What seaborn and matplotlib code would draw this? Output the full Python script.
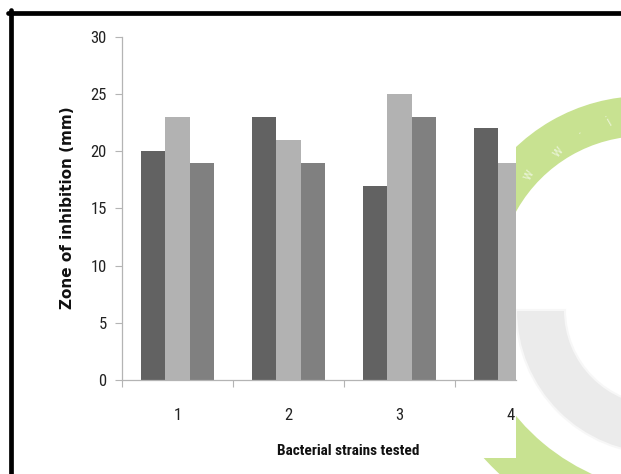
import matplotlib
matplotlib.use("Agg")
import matplotlib.pyplot as plt
from matplotlib import font_manager
from matplotlib.patches import Wedge, Rectangle
from matplotlib.lines import Line2D
import numpy as np
import pandas as pd
import seaborn as sns

# Zone of inhibition per bacterial strain, three treatments each
strains = ["1", "2", "3", "4"]
treatments = ["A", "B", "C"]
zone_a = [20, 23, 17, 22]
zone_b = [23, 21, 25, 19]
zone_c = [19, 19, 23, np.nan]
bar_colors = ["#626262", "#b2b2b2", "#808080"]
y_ticks = [0, 5, 10, 15, 20, 25, 30]

df = pd.DataFrame({
    "strain": np.repeat(strains, len(treatments)),
    "treatment": treatments * len(strains),
    "zone": [v for trio in zip(zone_a, zone_b, zone_c) for v in trio],
})

sns.set_theme(style="white")

available = {f.name for f in font_manager.fontManager.ttflist}
narrow = next((f for f in ["Liberation Sans Narrow", "DejaVu Sans Condensed",
                           "Roboto Condensed", "Open Sans Condensed", "Noto Sans"]
               if f in available), "DejaVu Sans")
plt.rcParams["font.family"] = [narrow, "DejaVu Sans"]

W, H = 621, 474
fig = plt.figure(figsize=(W / 100, H / 100), dpi=100)

# Background layer in pixel coordinates for the logo arcs and frame
bg = fig.add_axes([0, 0, 1, 1], zorder=0)
bg.set_xlim(0, W)
bg.set_ylim(H, 0)
bg.axis("off")
green = "#c8e291"
bg.add_patch(Wedge((644, 282), 186, 180, 300, width=40, facecolor=green,
                   edgecolor="none", zorder=1))
bg.add_patch(Wedge((680, 280), 265, 95, 165, width=52, facecolor=green,
                   edgecolor="none", zorder=1))
bg.add_patch(Wedge((660, 310), 144, 90, 180, width=49, facecolor="#ebebeb",
                   edgecolor="#f7f7f7", linewidth=1.5, zorder=2))
for (tx, ty, s, rot) in [(528, 175, "w", 62), (558, 152, "w", 50),
                         (578, 130, ".", 40), (610, 122, "i", 30)]:
    bg.text(tx, ty, s, color="#e6f2cf", fontsize=11, rotation=rot,
            ha="center", va="center", zorder=3)
bg.add_patch(Rectangle((0, 0), 516, 458, facecolor="white", edgecolor="none",
                       zorder=4))

# Main bar chart
ax = fig.add_axes([122 / W, (H - 380) / H, 394 / W, 343 / H], zorder=2)
sns.barplot(data=df, x="strain", y="zone", hue="treatment",
            palette=bar_colors, width=0.66, linewidth=0, saturation=1,
            legend=False, ax=ax)

axis_gray = "#b4b4b4"
ax.set_ylim(0, 30)
ax.set_xlim(-0.5, 3.05)
ax.set_yticks(y_ticks)
ax.set_yticklabels([str(t) for t in y_ticks])
ax.set_xticks([-0.5, 0.5, 1.5, 2.5])
ax.set_xticklabels([])
ax.set_xticks(range(len(strains)), minor=True)
ax.set_xticklabels(strains, minor=True)
ax.tick_params(axis="x", which="major", length=5, width=0.8, color=axis_gray,
               direction="out", bottom=True)
ax.tick_params(axis="x", which="minor", length=0, pad=20, labelsize=12,
               labelcolor="#222222")
ax.tick_params(axis="y", length=5, width=0.8, color=axis_gray, direction="out",
               left=True, pad=6, labelsize=12, labelcolor="#222222")
for side in ["top", "right"]:
    ax.spines[side].set_visible(False)
for side in ["left", "bottom"]:
    ax.spines[side].set_color(axis_gray)
    ax.spines[side].set_linewidth(0.9)
ax.set_xlabel("")
ax.set_ylabel("")
ax.patch.set_facecolor("white")

fig.text(68 / W, 1 - 208 / H, "Zone of inhibition (mm)", rotation=90,
         ha="center", va="center", fontsize=11, fontweight="bold",
         color="#111111", family="DejaVu Sans")
fig.text(348 / W, 1 - 451 / H, "Bacterial strains tested", ha="center",
         va="center", fontsize=11, fontweight="bold", color="#111111")

# Black frame along the top and left edges
fig.add_artist(Line2D([10.5 / W, 10.5 / W], [0, 1 - 10 / H], color="black",
                      linewidth=3.4, transform=fig.transFigure, zorder=5))
fig.add_artist(Line2D([8 / W, 1], [1 - 12.5 / H, 1 - 12.5 / H], color="black",
                      linewidth=3.4, transform=fig.transFigure, zorder=5))

fig.savefig("out.png", dpi=100, facecolor="white")
